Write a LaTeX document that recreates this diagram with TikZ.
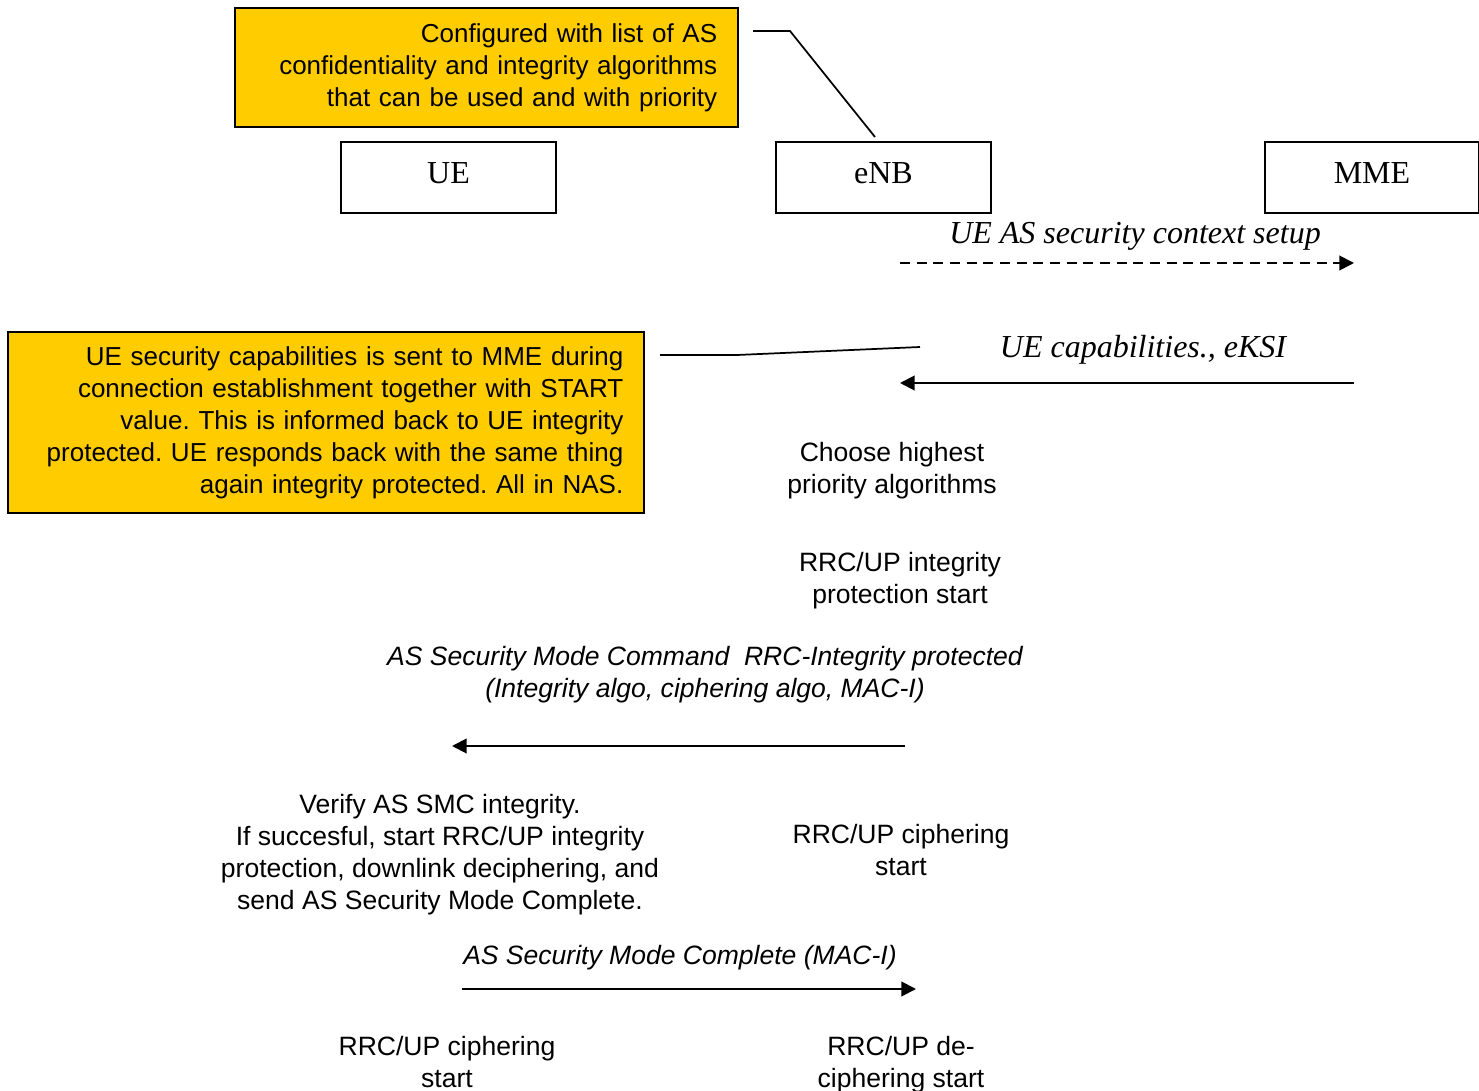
\documentclass[tikz,border=0pt]{standalone}
\usepackage{fontspec}
\setmainfont{Liberation Serif}
\setsansfont{Liberation Sans}
\usetikzlibrary{arrows.meta}
\definecolor{noteyellow}{RGB}{255,204,0}
\frenchspacing
\begin{document}
\begin{tikzpicture}[x=0.75pt,y=-0.75pt,
  entity/.style={draw,line width=1.5pt,minimum width=161pt,minimum height=53pt,inner sep=0pt,
    text depth=6pt,font=\fontsize{24}{26}\selectfont},
  note/.style={draw,line width=1.5pt,fill=noteyellow,align=right,inner xsep=15.5pt,inner ysep=0pt,
    font=\sffamily\fontsize{19.5}{24}\selectfont},
  plain/.style={align=center,inner sep=0pt,font=\sffamily\fontsize{19.9}{24}\selectfont},
  label/.style={align=center,inner sep=0pt,font=\sffamily\itshape\fontsize{19.9}{24}\selectfont},
  seriflabel/.style={inner sep=0pt,font=\itshape\fontsize{24}{26}\selectfont},
  msg/.style={line width=1.5pt,-{Triangle[length=11pt,width=11pt]}},
  callout/.style={line width=1.3pt}
]
\useasboundingbox (0,0) rectangle (1479,1091);

% lifeline heads
\node[entity] (ue)  at (448.5,177.5) {UE};
\node[entity] (enb) at (883.5,177.5) {eNB};
\node[entity] (mme) at (1372,177.5) {MME};

% annotation boxes
\node[note,minimum width=377pt,minimum height=89pt,text width=346pt] (cfg) at (486.5,67.5)
  {Configured with list of AS\\confidentiality and integrity algorithms\\that can be used and with priority};
\node[note,minimum width=477pt,minimum height=136pt,text width=446pt] (cap) at (326,422.5)
  {UE security capabilities is sent to MME during\\connection establishment together with START\\value. This is informed back to UE integrity\\protected. UE responds back with the same thing\\again integrity protected. All in NAS.};

% callout lines
\coordinate (cfgA) at (753,31);
\coordinate (cfgB) at (790,31);
\coordinate (cfgC) at (875,137);
\draw[callout] (cfgA) -- (cfgB) -- (cfgC);
\coordinate (capA) at (660,355);
\coordinate (capB) at (737,355);
\coordinate (capC) at (920,347);
\draw[callout] (capA) -- (capB) -- (capC);

% message endpoints
\coordinate (m1s) at (900,263);  \coordinate (m1e) at (1354,263);
\coordinate (m2s) at (1354,383); \coordinate (m2e) at (900,383);
\coordinate (m3s) at (905,746);  \coordinate (m3e) at (452,746);
\coordinate (m4s) at (462,989);  \coordinate (m4e) at (916,989);

\draw[msg,dashed,dash pattern=on 7.5pt off 5pt] (m1s) -- (m1e);
\draw[msg] (m2s) -- (m2e);
\draw[msg] (m3s) -- (m3e);
\draw[msg] (m4s) -- (m4e);

% message labels
\node[seriflabel] (l1) at (1135,236) {UE AS security context setup};
\node[seriflabel] (l2) at (1143,350) {UE capabilities., eKSI};
\node[label] (l3) at (705,675) {AS Security Mode Command\ \ RRC-Integrity protected\\(Integrity algo, ciphering algo, MAC-I)};
\node[label] (l4) at (680,958) {AS Security Mode Complete (MAC-I)};

% actions
\node[plain] (a1) at (892,471) {Choose highest\\priority algorithms};
\node[plain] (a2) at (900,581) {RRC/UP integrity\\protection start};
\node[plain] (a3) at (440,855) {Verify AS SMC integrity.\\If succesful, start RRC/UP integrity\\protection, downlink deciphering, and\\send AS Security Mode Complete.};
\node[plain] (a4) at (901,850) {RRC/UP ciphering\\start};
\node[plain] (a5) at (447,1062) {RRC/UP ciphering\\start};
\node[plain] (a6) at (901,1065) {RRC/UP de-\\ciphering start};
\end{tikzpicture}
\end{document}
